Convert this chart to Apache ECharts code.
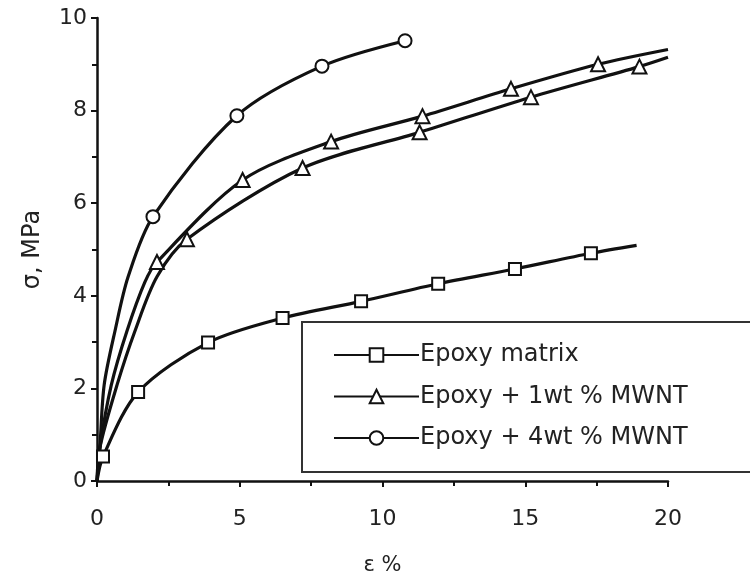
<!DOCTYPE html>
<html>
<head>
<meta charset="utf-8">
<script src="https://cdn.jsdelivr.net/npm/echarts@6/dist/echarts.min.js"></script>
<style>
  html, body { margin: 0; padding: 0; background: #ffffff; }
  #chart { width: 750px; height: 581px; }
</style>
</head>
<body>
<div id="chart"></div>
<script>
// Stress–strain curves of epoxy and epoxy/MWNT composites.
// Strain in %, stress in MPa. A "1" in the *Marked arrays means the point carries a symbol.
const seriesNames = ['Epoxy matrix', 'Epoxy + 1wt % MWNT', 'Epoxy + 4wt % MWNT'];
const xTicks = [0, 5, 10, 15, 20];
const yTicks = [0, 2, 4, 6, 8, 10];

const matrixStrain = [0, 0.21, 1.44, 3.89, 6.5, 9.25, 11.95, 14.64, 17.3, 18.9];
const matrixStress = [0, 0.53, 1.92, 2.99, 3.52, 3.88, 4.26, 4.58, 4.92, 5.09];
const matrixMarked = [0, 1, 1, 1, 1, 1, 1, 1, 1, 0];

// 1 wt % MWNT, first specimen
const mwnt1aStrain = [0, 0.1, 0.5, 1.05, 1.68, 2.1, 5.1, 8.2, 11.4, 14.5, 17.55, 20];
const mwnt1aStress = [0, 0.72, 2.07, 3.24, 4.3, 4.73, 6.5, 7.33, 7.88, 8.47, 9.0, 9.32];
const mwnt1aMarked = [0, 0, 0, 0, 0, 1, 1, 1, 1, 1, 1, 0];

// 1 wt % MWNT, second specimen
const mwnt1bStrain = [0, 0.1, 0.7, 1.33, 2.1, 3.15, 7.2, 11.3, 15.2, 19.0, 20];
const mwnt1bStress = [0, 0.72, 2.07, 3.24, 4.41, 5.22, 6.76, 7.53, 8.29, 8.95, 9.15];
const mwnt1bMarked = [0, 0, 0, 0, 0, 1, 1, 1, 1, 1, 0];

const mwnt4Strain = [0, 0.1, 0.25, 0.63, 1.09, 1.96, 4.9, 7.88, 10.79];
const mwnt4Stress = [0, 0.72, 2.07, 3.24, 4.41, 5.71, 7.89, 8.96, 9.51];
const mwnt4Marked = [0, 0, 0, 0, 0, 1, 1, 1, 1];

function buildData(xs, ys, marked) {
  return xs.map((x, i) => marked[i]
    ? { value: [x, ys[i]] }
    : { value: [x, ys[i]], symbol: 'none' });
}

const ink = '#111111';
const textInk = '#222222';
const fontFamily = 'DejaVu Sans, Liberation Sans, Arial, sans-serif';

function curve(name, data, symbol, size) {
  return {
    name: name,
    type: 'line',
    data: data,
    smooth: 0.3,
    symbol: symbol,
    symbolSize: size,
    showSymbol: true,
    lineStyle: { color: ink, width: 3.2 },
    itemStyle: { color: ink, borderWidth: 2.6 },
    emphasis: { disabled: true },
    z: 2
  };
}

const chart = echarts.init(document.getElementById('chart'), null, { renderer: 'canvas' });

chart.setOption({
  animation: false,
  backgroundColor: '#ffffff',
  textStyle: { fontFamily: fontFamily },
  grid: { left: 97, right: 82, top: 18, bottom: 94, containLabel: false },
  xAxis: {
    type: 'value',
    min: xTicks[0],
    max: xTicks[xTicks.length - 1],
    interval: 5,
    name: 'ε %',
    nameLocation: 'middle',
    nameGap: 74,
    nameTextStyle: { color: textInk, fontSize: 21, fontFamily: fontFamily },
    axisLine: { show: true, lineStyle: { color: ink, width: 2.5 } },
    axisTick: { show: true, inside: false, length: 6, lineStyle: { color: ink, width: 2 } },
    minorTick: { show: true, splitNumber: 2, length: 5, lineStyle: { color: ink, width: 2 } },
    axisLabel: { color: textInk, fontSize: 22, margin: 27, fontFamily: fontFamily },
    splitLine: { show: false }
  },
  yAxis: {
    type: 'value',
    min: yTicks[0],
    max: yTicks[yTicks.length - 1],
    interval: 2,
    name: 'σ, MPa',
    nameLocation: 'middle',
    nameGap: 52,
    nameRotate: 90,
    nameTextStyle: { color: textInk, fontSize: 24, fontFamily: fontFamily },
    axisLine: { show: true, lineStyle: { color: ink, width: 2.5 } },
    axisTick: { show: true, inside: false, length: 6, lineStyle: { color: ink, width: 2 } },
    minorTick: { show: true, splitNumber: 2, length: 5, lineStyle: { color: ink, width: 2 } },
    axisLabel: { color: textInk, fontSize: 22, margin: 10, fontFamily: fontFamily },
    splitLine: { show: false }
  },
  legend: {
    data: seriesNames,
    orient: 'vertical',
    left: 333,
    top: 343,
    itemWidth: 85,
    itemHeight: 17,
    itemGap: 17.5,
    padding: 0,
    selectedMode: false,
    textStyle: { color: textInk, fontSize: 24, fontFamily: fontFamily, padding: [0, 0, 0, -4] },
    z: 6
  },
  graphic: [{
    type: 'rect',
    z: 5,
    shape: { x: 302, y: 322, width: 470, height: 150 },
    style: { fill: '#ffffff', stroke: '#333333', lineWidth: 2 }
  }],
  series: [
    curve(seriesNames[0], buildData(matrixStrain, matrixStress, matrixMarked), 'emptyRect', 12),
    curve(seriesNames[1], buildData(mwnt1aStrain, mwnt1aStress, mwnt1aMarked), 'emptyTriangle', 14),
    curve(seriesNames[1], buildData(mwnt1bStrain, mwnt1bStress, mwnt1bMarked), 'emptyTriangle', 14),
    curve(seriesNames[2], buildData(mwnt4Strain, mwnt4Stress, mwnt4Marked), 'emptyCircle', 13)
  ]
});
</script>
</body>
</html>
